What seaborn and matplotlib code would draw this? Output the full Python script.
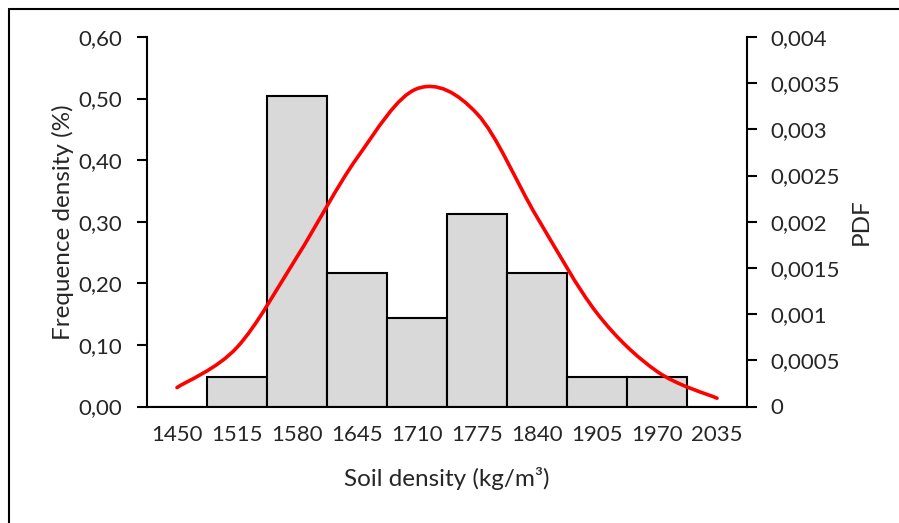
import numpy as np
import matplotlib
matplotlib.use("Agg")
import matplotlib.pyplot as plt
import seaborn as sns
from matplotlib.path import Path
from matplotlib.patches import PathPatch
from matplotlib.lines import Line2D
from matplotlib.ticker import FixedLocator, FuncFormatter

# ---- data ----
categories = ["1450", "1515", "1580", "1645", "1710", "1775", "1840", "1905", "1970", "2035"]
freq_density = [0.0, 0.048, 0.504, 0.216, 0.144, 0.312, 0.216, 0.048, 0.048, 0.0]
pdf_values = [0.000205, 0.00064, 0.00162, 0.00269, 0.00344, 0.00317, 0.00205, 0.00101, 0.00038, 0.00009]
left_ticks = [0.0, 0.1, 0.2, 0.3, 0.4, 0.5, 0.6]
right_ticks = [0.0, 0.0005, 0.001, 0.0015, 0.002, 0.0025, 0.003, 0.0035, 0.004]

sns.set_style("white")
plt.rcParams["font.family"] = ["Lato", "DejaVu Sans"]

W, H = 899, 523
fig = plt.figure(figsize=(W / 100, H / 100), dpi=100)
ax = fig.add_axes([147 / W, 1 - 406.5 / H, (747 - 147) / W, (406.5 - 37) / H])

sns.barplot(x=categories, y=freq_density, ax=ax, color="#d9d9d9", saturation=1,
            width=1.0, edgecolor="black", linewidth=1.5, zorder=2)
ax.set_xlim(-0.5, len(categories) - 0.5)
ax.set_ylim(0, 0.6)

# x axis: ticks at category boundaries, labels at centers
n = len(categories)
ax.xaxis.set_major_locator(FixedLocator(np.arange(n + 1) - 0.5))
ax.xaxis.set_major_formatter(FuncFormatter(lambda v, p: ""))
ax.xaxis.set_minor_locator(FixedLocator(np.arange(n)))
ax.xaxis.set_minor_formatter(FuncFormatter(lambda v, p: categories[int(round(v))]))
ax.tick_params(axis="x", which="major", direction="out", length=7, width=1.5, color="black")
ax.tick_params(axis="x", which="minor", length=0, pad=13, labelsize=16)

ax.set_yticks(left_ticks)
ax.yaxis.set_major_formatter(FuncFormatter(lambda v, p: f"{v:.2f}".replace(".", ",")))
ax.tick_params(axis="y", direction="out", length=7, width=1.5, color="black", pad=11, labelsize=16)

for s in ["top", "right"]:
    ax.spines[s].set_visible(False)
for s in ["left", "bottom"]:
    ax.spines[s].set_color("black")
    ax.spines[s].set_linewidth(1.5)

ax.set_xlabel("Soil density (kg/m³)", fontsize=17.5, labelpad=16.5)
ax.set_ylabel("Frequence density (%)", fontsize=17.5)
ax.yaxis.set_label_coords((74 - 147) / 600, 0.5)

# secondary axis
ax2 = ax.twinx()
ax2.set_ylim(0, 0.004)
ax2.set_yticks(right_ticks)
ax2.yaxis.set_major_formatter(FuncFormatter(lambda v, p: ("0" if v == 0 else f"{v:g}").replace(".", ",")))
ax2.tick_params(axis="y", direction="out", length=7, width=1.5, color="black", pad=10, labelsize=16)
for s in ["top", "left", "bottom"]:
    ax2.spines[s].set_visible(False)
ax2.spines["right"].set_color("black")
ax2.spines["right"].set_linewidth(1.5)
ax2.set_ylabel("PDF", fontsize=17.5, labelpad=8)

# smoothed line (Excel-style Bezier through data points)
xs = np.arange(n, dtype=float)
ys = np.array(pdf_values)
pts = np.column_stack([xs, ys])
verts = [tuple(pts[0])]
codes = [Path.MOVETO]
for i in range(n - 1):
    p0 = pts[max(i - 1, 0)]
    p1 = pts[i]
    p2 = pts[i + 1]
    p3 = pts[min(i + 2, n - 1)]
    c1 = p1 + (p2 - p0) / 6.0
    c2 = p2 - (p3 - p1) / 6.0
    verts += [tuple(c1), tuple(c2), tuple(p2)]
    codes += [Path.CURVE4] * 3
ax2.add_patch(PathPatch(Path(verts, codes), facecolor="none", edgecolor="#ff0000",
                        linewidth=2.6, capstyle="round", zorder=3))

# outer frame (left & top visible)
fig.add_artist(Line2D([8.5 / W, 8.5 / W], [0, 1 - 8.5 / H], transform=fig.transFigure,
                      color="black", linewidth=1.5))
fig.add_artist(Line2D([8.5 / W, 1], [1 - 8.5 / H, 1 - 8.5 / H], transform=fig.transFigure,
                      color="black", linewidth=1.5))

fig.savefig("out.png", dpi=100)
